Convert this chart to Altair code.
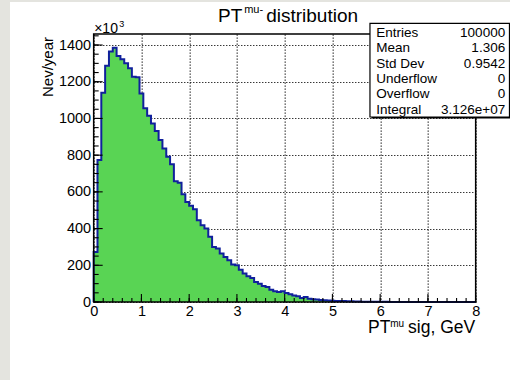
import altair as alt
import pandas as pd

# ---- data (counts in units of 10^3 Nev/year) ----
bin_lo = 0.0
bin_width = 0.08
counts = [273, 773, 1140, 1287, 1364, 1385, 1340, 1322, 1300, 1273,
          1227, 1224, 1136, 1055, 1015, 973, 931, 882, 836, 791,
          751, 658, 649, 587, 545, 524, 505, 445, 418, 400,
          355, 300, 291, 264, 245, 227, 204, 200, 176, 155,
          140, 131, 109, 100, 87, 82, 67, 58, 55, 58,
          49, 42, 36, 31, 22, 27, 18, 15, 13, 11,
          9, 8, 7, 6, 5, 5, 4, 3.5, 3, 2.5,
          2, 2, 1.5, 1.2, 1, 0.8, 0.7, 0.5, 0.4, 0.3,
          0.3, 0.2, 0.2, 0.15, 0.1, 0.1, 0.1, 0.05, 0.05, 0.05,
          0, 0, 0, 0, 0, 0, 0, 0, 0, 0]

x_major = [0, 1, 2, 3, 4, 5, 6, 7, 8]
y_major = [0, 200, 400, 600, 800, 1000, 1200, 1400]
x_minor = [round(i * 0.2, 2) for i in range(41)]
y_minor = [i * 50 for i in range(30)]

stats_labels = ["Entries", "Mean", "Std Dev", "Underflow", "Overflow", "Integral"]
stats_values = ["100000", "1.306", "0.9542", "0", "0", "3.126e+07"]

X_DOMAIN = [0, 8]
Y_DOMAIN = [0, 1460]

W, H = 382, 268
FONT = "Liberation Sans"
FILL = "#59d454"
LINE = "#10209c"
PAGE = "#e4e4df"

# ---- tables built from the arrays ----
edges = [bin_lo + bin_width * i for i in range(len(counts) + 1)]
area_df = pd.DataFrame({"x": edges, "y": counts + [counts[-1]]})
line_df = pd.DataFrame({
    "x": [edges[0]] + edges,
    "y": [0] + counts + [counts[-1]],
})
line_df["i"] = range(len(line_df))

xs = alt.Scale(domain=X_DOMAIN, nice=False, zero=False)
ys = alt.Scale(domain=Y_DOMAIN, nice=False)

X_AX = alt.Axis(
    values=x_major, format="d", title=None, ticks=False, domain=False,
    labelFont=FONT, labelFontSize=14.5, labelColor="black", labelPadding=2,
    labelFlush=False, grid=True, gridDash=[1.2, 1.8], gridColor="#111", gridWidth=1.1)
Y_AX = alt.Axis(
    values=y_major, format="d", title=None, ticks=False, domain=False,
    labelFont=FONT, labelFontSize=14.5, labelColor="black", labelPadding=3,
    labelFlush=False, grid=True, gridDash=[1.2, 1.8], gridColor="#111", gridWidth=1.1)

one = pd.DataFrame({"k": [0]})

# light-gray page strips at left and top (outside the white canvas)
strip_left = alt.Chart(one).mark_rect(fill=PAGE).encode(
    x=alt.value(-94), x2=alt.value(-83.67), y=alt.value(-34), y2=alt.value(346))
strip_top = alt.Chart(one).mark_rect(fill=PAGE).encode(
    x=alt.value(-94), x2=alt.value(417), y=alt.value(-34), y2=alt.value(-32))

area = alt.Chart(area_df).mark_area(interpolate="step-after", color=FILL, opacity=1).encode(
    x=alt.X("x:Q", scale=xs, axis=X_AX), y=alt.Y("y:Q", scale=ys, axis=Y_AX))

line = alt.Chart(line_df).mark_line(interpolate="step-after", color=LINE, strokeWidth=2).encode(
    x=alt.X("x:Q", scale=xs, axis=X_AX), y=alt.Y("y:Q", scale=ys, axis=Y_AX), order="i:Q")

# inward ticks
def yticks(vals, length):
    return alt.Chart(pd.DataFrame({"v": vals})).mark_rule(color="black", strokeWidth=1.1).encode(
        y=alt.Y("v:Q", scale=ys, axis=Y_AX), x=alt.value(0), x2=alt.value(length))

def xticks(vals, length):
    return alt.Chart(pd.DataFrame({"v": vals})).mark_rule(color="black", strokeWidth=1.1).encode(
        x=alt.X("v:Q", scale=xs, axis=X_AX), y=alt.value(H), y2=alt.value(H - length))

frame = alt.Chart(one).mark_rect(fill=None, stroke="black", strokeWidth=1.5).encode(
    x=alt.value(0), x2=alt.value(W), y=alt.value(0), y2=alt.value(H))

def txt(s, x, y, size, align="left", angle=0, baseline="alphabetic"):
    return alt.Chart(one).mark_text(
        text=s, font=FONT, fontSize=size, color="black", align=align,
        baseline=baseline, angle=angle).encode(x=alt.value(x), y=alt.value(y))

# stats box
box_x0, box_x1, box_y0, box_y1 = 276.3, 415.8, -10.7, 83
box_shadow = alt.Chart(one).mark_rect(fill="black").encode(
    x=alt.value(box_x0 + 1.5), x2=alt.value(box_x1 + 1.5), y=alt.value(box_y0 + 1.5), y2=alt.value(box_y1 + 1.5))
box = alt.Chart(one).mark_rect(fill="white", stroke="black", strokeWidth=1.2).encode(
    x=alt.value(box_x0), x2=alt.value(box_x1), y=alt.value(box_y0), y2=alt.value(box_y1))

row_step = (79.5 - 3.0) / (len(stats_labels) - 1)
stat_texts = []
for r, (lab, val) in enumerate(zip(stats_labels, stats_values)):
    yb = 3.0 + r * row_step
    stat_texts.append(txt(lab, 282.5, yb, 13.5))
    stat_texts.append(txt(val, 411.5, yb, 13.5, align="right"))

texts = [
    txt("PT", 124.3, -12, 19),
    txt("mu-", 150.5, -21, 11),
    txt("distribution", 172.5, -12, 19),
    txt("×10", 0.5, -1, 14),
    txt("3", 25.5, -7.5, 9),
    txt("Nev/year", -41, 3, 15, align="right", angle=270),
    txt("PT", 274.3, 299, 17.5),
    txt("mu", 296.5, 293, 10),
    txt("sig, GeV", 381.5, 299, 17.5, align="right"),
]

chart = alt.layer(
    strip_left, strip_top, area, line,
    yticks(y_minor, 5), yticks(y_major, 9),
    xticks(x_minor, 4), xticks(x_major, 8),
    frame, box_shadow, box, *stat_texts, *texts,
).properties(
    width=W, height=H,
    autosize=alt.AutoSizeParams(type="none"),
    padding={"left": 93.67, "top": 34, "right": 34.33, "bottom": 78},
    background="white",
).configure_view(stroke=None)

chart.save("out.html", embed_options={"renderer": "svg", "actions": False})
